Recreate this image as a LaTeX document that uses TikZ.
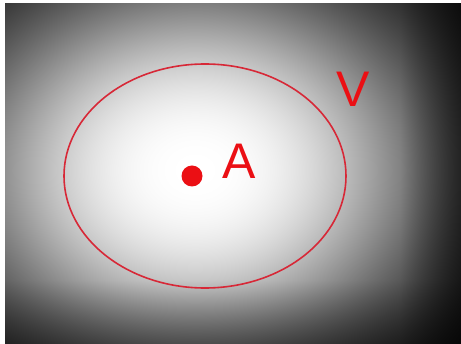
\documentclass[tikz,border=0pt]{standalone}
\usepackage{fontspec}
\setmainfont{Liberation Sans}
\pgfdeclarefunctionalshading{bgshade}{\pgfpointorigin}{\pgfpoint{100bp}{100bp}}{}{
  2 copy
  8.6 mul neg 432.5 add dup mul
  exch 9.22 mul 425.5 sub dup mul add
  57600 div 1.25 exp neg 2.71828 exch exp
  exch 6.88 mul neg 516 add
  280 sub dup 0 lt {pop 0} if 64 div 0.35 mul 1 exch sub mul
  exch 9.22 mul 230.5 sub
  400 sub dup 0 lt {pop 0} if 61 div 0.5 mul 1 exch sub mul
  dup dup
}
\definecolor{ellred}{RGB}{215,40,55}
\definecolor{txtred}{RGB}{235,15,20}
\tikzset{
  lbl/.style={text=txtred, inner sep=0pt, anchor=base, font=\fontsize{50}{50}\selectfont},
  ring/.style={draw=ellred, line width=1.6pt},
  pt/.style={fill=txtred, draw=none}
}
\begin{document}
\begin{tikzpicture}[x=1pt,y=-1pt]
\useasboundingbox (0,0) rectangle (461,344);
\fill[white] (0,0) rectangle (461,344);
\begin{scope}
  \clip (5,4) rectangle (461,344);
  \shade[shading=bgshade] (0,0) rectangle (461,344);
\end{scope}
\draw[ring] (205,176) ellipse [x radius=141, y radius=112];
\fill[pt] (192,176) circle [radius=10.5];
\node[lbl] (A) at (239,179) {A};
\node[lbl] (V) at (353,107) {V};
\end{tikzpicture}
\end{document}
